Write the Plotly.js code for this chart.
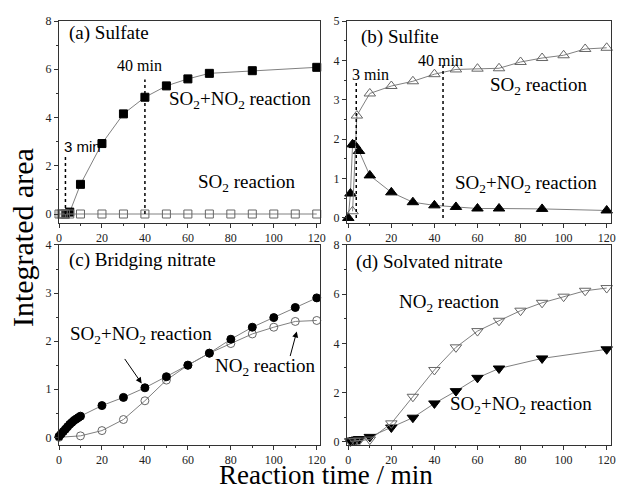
<!DOCTYPE html>
<html>
<head>
<meta charset="utf-8">
<script src="https://cdn.plot.ly/plotly-3.0.1.min.js"></script>
<style>html,body{margin:0;padding:0;background:#fff;}#chart{width:617px;height:492px;}</style>
</head>
<body>
<div id="chart"></div>
<script>
// ---------- data ----------
// (a) Sulfate
const sulfateMixTime = [3, 5, 10, 20, 30, 40, 50, 60, 70, 90, 120];
const sulfateMixArea = [0.0, 0.08, 1.23, 2.92, 4.15, 4.84, 5.31, 5.60, 5.83, 5.94, 6.08];
const sulfateSO2Time = [0, 1, 2, 3, 5, 10, 20, 30, 40, 50, 60, 70, 80, 90, 100, 110, 120];
const sulfateSO2Area = [0, 0, 0, 0, 0, 0, 0, 0, 0, 0, 0, 0, 0, 0, 0, 0, 0];
const sulfateMarkTime = [3, 40];
const sulfateMarkTop = [2.49, 5.58];

// (b) Sulfite
const sulfiteSO2Time = [2, 4, 10, 20, 30, 40, 50, 60, 70, 80, 90, 100, 110, 120];
const sulfiteSO2Area = [0.17, 2.60, 3.16, 3.35, 3.47, 3.65, 3.77, 3.79, 3.80, 3.96, 4.06, 4.13, 4.29, 4.32];
const sulfiteMixTime = [0, 1, 2, 3, 5, 10, 20, 30, 40, 50, 60, 70, 90, 120];
const sulfiteMixArea = [0, 0.62, 1.87, 1.85, 1.70, 1.08, 0.65, 0.40, 0.32, 0.28, 0.24, 0.24, 0.23, 0.19];
const sulfiteMarkTime = [3.7, 44];
const sulfiteMarkTop = [3.46, 3.88];

// (c) Bridging nitrate
const bridgeMixTime = [0, 1, 2, 3, 4, 5, 6, 7, 8, 9, 10, 20, 30, 40, 50, 60, 70, 80, 90, 100, 110, 120];
const bridgeMixArea = [0.02, 0.07, 0.12, 0.17, 0.22, 0.27, 0.31, 0.35, 0.38, 0.41, 0.44, 0.66, 0.83, 1.03, 1.26, 1.50, 1.75, 2.04, 2.29, 2.49, 2.70, 2.90];
const bridgeNO2Time = [0, 10, 20, 30, 40, 50, 60, 70, 80, 90, 100, 110, 120];
const bridgeNO2Area = [0, 0.03, 0.14, 0.37, 0.76, 1.19, 1.50, 1.75, 1.95, 2.15, 2.29, 2.41, 2.43];

// (d) Solvated nitrate
const solvNO2Time = [1, 3, 5, 10, 20, 30, 40, 50, 60, 70, 80, 90, 100, 110, 120];
const solvNO2Area = [0.02, 0.04, 0.05, 0.09, 0.75, 1.83, 2.92, 3.84, 4.50, 4.92, 5.33, 5.65, 5.90, 6.14, 6.25];
const solvMixTime = [1, 2, 3, 4, 5, 10, 20, 30, 40, 50, 60, 70, 90, 120];
const solvMixArea = [0.02, 0.05, 0.07, 0.09, 0.11, 0.20, 0.58, 0.98, 1.56, 2.06, 2.60, 2.98, 3.39, 3.76];

const xTicks = [0, 20, 40, 60, 80, 100, 120];

// ---------- styles ----------
const SERIF = 'Liberation Serif';
const SANS = 'Liberation Sans';
const LINE_COL = '#808080';
const OPEN_COL = '#666666';

function series(x, y, xa, ya, symbol, size, filled) {
  return {
    x: x, y: y, xaxis: xa, yaxis: ya, type: 'scatter', mode: 'lines+markers',
    line: {color: LINE_COL, width: 1},
    marker: {symbol: symbol, size: size,
      color: filled ? '#000' : OPEN_COL,
      line: {color: filled ? '#000' : OPEN_COL, width: 1}},
    hoverinfo: 'x+y', showlegend: false, cliponaxis: false
  };
}

const traces = [
  series(sulfateMixTime, sulfateMixArea, 'x', 'y', 'square', 8, true),
  series(sulfateSO2Time, sulfateSO2Area, 'x', 'y', 'square-open', 8, false),
  series(sulfiteMixTime, sulfiteMixArea, 'x2', 'y2', 'triangle-up', 10, true),
  series(sulfiteSO2Time, sulfiteSO2Area, 'x2', 'y2', 'triangle-up-open', 10, false),
  series(bridgeNO2Time, bridgeNO2Area, 'x3', 'y3', 'circle-open', 8, false),
  series(bridgeMixTime, bridgeMixArea, 'x3', 'y3', 'circle', 8, true),
  series(solvMixTime, solvMixArea, 'x4', 'y4', 'triangle-down', 10, true),
  series(solvNO2Time, solvNO2Area, 'x4', 'y4', 'triangle-down-open', 10, false)
];

function xAxis(domain, range, anchor) {
  return {
    domain: domain, range: range, anchor: anchor,
    tickvals: xTicks, ticktext: xTicks.map(String),
    ticks: 'outside', ticklen: 4, tickwidth: 1, tickcolor: '#333',
    minor: {dtick: 10, tick0: 0, ticks: 'outside', ticklen: 2, tickcolor: '#333'},
    showline: true, linecolor: '#333', linewidth: 1, mirror: true,
    showgrid: false, zeroline: false,
    tickfont: {family: SERIF, size: 12, color: '#222'}
  };
}
function yAxis(domain, range, anchor, dtick) {
  return {
    domain: domain, range: range, anchor: anchor, dtick: dtick, tick0: 0,
    ticks: 'outside', ticklen: 4, tickwidth: 1, tickcolor: '#333',
    minor: {dtick: dtick / 2, ticks: 'outside', ticklen: 2, tickcolor: '#333'},
    showline: true, linecolor: '#333', linewidth: 1, mirror: true,
    showgrid: false, zeroline: false,
    tickfont: {family: SERIF, size: 12, color: '#222'}
  };
}

const leftDom = [0, 0.472], rightDom = [0.5217, 1];
const topDom = [0.5243, 1], botDom = [0, 0.4717];

function note(text, xref, yref, x, y, size, anchor, family) {
  return {text: text, xref: xref, yref: yref, x: x, y: y, xanchor: anchor || 'left', yanchor: 'middle',
    showarrow: false, font: {family: family || SERIF, size: size, color: '#000'}};
}
function arrow(xref, yref, x, y, ax, ay) {
  return {text: '', xref: xref, yref: yref, x: x, y: y, ax: ax, ay: ay, showarrow: true,
    arrowhead: 2, arrowsize: 1.2, arrowwidth: 1, arrowcolor: '#000', standoff: 0};
}

const shapes = [];
sulfateMarkTime.forEach((t, i) => shapes.push({type: 'line', xref: 'x', yref: 'y', x0: t, x1: t, y0: 0, y1: sulfateMarkTop[i],
  line: {color: '#000', width: 1.5, dash: 'dot'}}));
sulfiteMarkTime.forEach((t, i) => shapes.push({type: 'line', xref: 'x2', yref: 'y2', x0: t, x1: t, y0: 0, y1: sulfiteMarkTop[i],
  line: {color: '#000', width: 1.5, dash: 'dot'}}));

const SO2NO2 = 'SO<sub>2</sub>+NO<sub>2</sub> reaction';
const annotations = [
  note('(a) Sulfate', 'x', 'y', 3.7, 7.5, 19),
  note('40 min', 'x', 'y', 37.5, 6.17, 16, 'center'),
  note('3 min', 'x', 'y', 1.4, 2.78, 15, 'left', SANS),
  note(SO2NO2, 'x', 'y', 50.3, 4.72, 19),
  note('SO<sub>2</sub> reaction', 'x', 'y', 63.8, 1.28, 19),

  note('(b) Sulfite', 'x2', 'y2', 5.0, 4.59, 19),
  note('40 min', 'x2', 'y2', 42.6, 4.01, 16, 'center'),
  note('3 min', 'x2', 'y2', 10.5, 3.63, 16, 'center'),
  note('SO<sub>2</sub> reaction', 'x2', 'y2', 64.9, 3.35, 19),
  note(SO2NO2, 'x2', 'y2', 48.6, 0.86, 19),

  note('(c) Bridging nitrate', 'x3', 'y3', 3.7, 3.69, 19),
  note(SO2NO2, 'x3', 'y3', 4.2, 2.13, 19),
  note('NO<sub>2</sub> reaction', 'x3', 'y3', 71.7, 1.46, 19),
  arrow('x3', 'y3', 38.5, 1.12, -18, -26),
  arrow('x3', 'y3', 110.7, 2.2, -7, 26),

  note('(d) Solvated nitrate', 'x4', 'y4', 2.65, 7.31, 19),
  note('NO<sub>2</sub> reaction', 'x4', 'y4', 22.6, 5.64, 19),
  note(SO2NO2, 'x4', 'y4', 46.3, 1.5, 19),

  {text: 'Integrated area', xref: 'paper', yref: 'paper', x: -0.067, y: 0.488, xanchor: 'center', yanchor: 'middle',
    textangle: -90, showarrow: false, font: {family: SERIF, size: 30, color: '#000'}},
  {text: 'Reaction time / min', xref: 'paper', yref: 'paper', x: 0.4837, y: -0.1103, xanchor: 'center', yanchor: 'bottom',
    showarrow: false, font: {family: SERIF, size: 27, color: '#000'}}
];

const layout = {
  width: 617, height: 492,
  margin: {l: 59, r: 6, t: 21, b: 47},
  paper_bgcolor: '#fff', plot_bgcolor: '#fff',
  showlegend: false,
  font: {family: SERIF},
  xaxis: xAxis(leftDom, [0, 121.3], 'y'),
  yaxis: yAxis(topDom, [-0.36, 8], 'x', 2),
  xaxis2: xAxis(rightDom, [-0.6, 122], 'y2'),
  yaxis2: yAxis(topDom, [-0.12, 5], 'x2', 1),
  xaxis3: xAxis(leftDom, [0, 121.3], 'y3'),
  yaxis3: yAxis(botDom, [-0.16, 4], 'x3', 1),
  xaxis4: xAxis(rightDom, [-0.6, 122], 'y4'),
  yaxis4: yAxis(botDom, [-0.13, 8], 'x4', 2),
  shapes: shapes,
  annotations: annotations
};

Plotly.newPlot('chart', traces, layout, {displayModeBar: false, staticPlot: true});
</script>
</body>
</html>
